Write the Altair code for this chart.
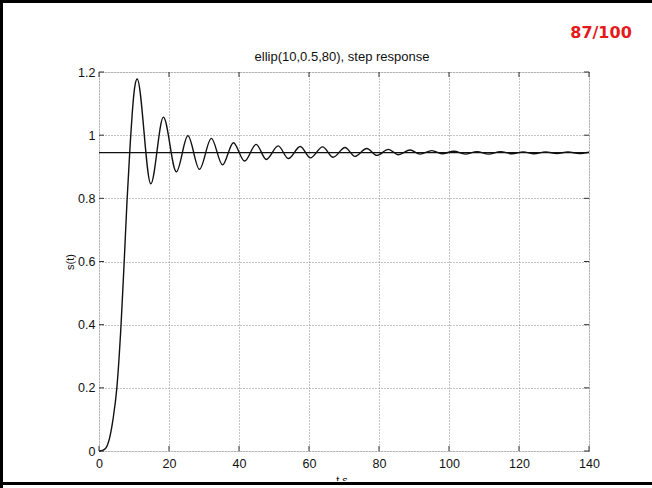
import altair as alt
import pandas as pd

# Step response of ellip(10, 0.5, 80): time (s) and amplitude s(t)
t_vals = [0, 1, 2, 3, 4, 5.1, 6.3, 7.2, 8.0, 8.9, 9.5, 10.2, 10.9,
          14.8, 18.4, 22.1, 25.4, 28.7, 32.1, 35.3, 38.4, 41.6, 44.9,
          47.8, 51.2, 54.1, 57.5, 60.4, 63.9, 66.9, 70.3, 73.1, 76.5,
          79.4, 82.7, 85.5, 88.9, 91.7, 95.1, 98.0, 101.4, 104.6, 108.0,
          111.3, 114.7, 118.0, 121.2, 124.3, 127.6, 130.8, 134.0, 137.2, 140]
s_vals = [0, 0.002, 0.01, 0.04, 0.1, 0.2, 0.4, 0.6, 0.79, 0.97, 1.07, 1.152, 1.178,
          0.846, 1.057, 0.884, 0.998, 0.892, 0.99, 0.906, 0.976, 0.918, 0.971,
          0.923, 0.966, 0.926, 0.964, 0.928, 0.963, 0.930, 0.961, 0.933, 0.958,
          0.936, 0.955, 0.938, 0.953, 0.940, 0.951, 0.941, 0.949, 0.940, 0.948,
          0.940, 0.948, 0.941, 0.947, 0.941, 0.947, 0.942, 0.947, 0.942, 0.946]
steady_value = 0.945

x_ticks = [0, 20, 40, 60, 80, 100, 120, 140]
y_ticks = [0, 0.2, 0.4, 0.6, 0.8, 1.0, 1.2]

W, H = 490, 379
FONT = "Liberation Sans"
INK = "#111111"

curve_df = pd.DataFrame({"t": t_vals, "s": s_vals})
xt_df = pd.DataFrame({"t": x_ticks})
yt_df = pd.DataFrame({"s": y_ticks})
one = pd.DataFrame({"k": [0]})

x_scale = alt.Scale(domain=[0, 140], nice=False, zero=False)
y_scale = alt.Scale(domain=[0, 1.2], nice=False, zero=False)

x_axis = alt.Axis(values=x_ticks, title=None, grid=True, ticks=False, tickSize=0,
                  domain=False, labelFont=FONT, labelFontSize=12.5, labelColor=INK,
                  labelPadding=6, gridColor="#8a8a8a", gridDash=[1, 2], gridWidth=1,
                  labelFlush=False)
y_axis = alt.Axis(values=y_ticks, title="s(t)", grid=True, ticks=False, tickSize=0,
                  domain=False, labelFont=FONT, labelFontSize=12.5, labelColor=INK,
                  labelPadding=4, gridColor="#8a8a8a", gridDash=[1, 2], gridWidth=1,
                  labelFlush=False,
                  labelExpr="datum.value == 0 ? '0' : datum.value == 1 ? '1' : datum.label",
                  titleFont=FONT, titleFontSize=11, titleFontWeight="normal",
                  titleColor=INK, titleX=-24, titleY=H / 2, titleAngle=270,
                  titleAlign="center", titleBaseline="bottom")

X = alt.X("t:Q", scale=x_scale, axis=x_axis)
Y = alt.Y("s:Q", scale=y_scale, axis=y_axis)

curve = alt.Chart(curve_df).mark_line(
    color=INK, strokeWidth=1.4, interpolate="monotone"
).encode(x=X, y=Y)

steady = alt.Chart(one).mark_rule(color=INK, strokeWidth=1.3).encode(
    y=alt.datum(steady_value, scale=y_scale, axis=y_axis)
)

# inward tick marks on all four sides of the box
tick_len = 5
xt_bottom = alt.Chart(xt_df).mark_rule(color="#333").encode(
    x=X, y=alt.value(H), y2=alt.value(H - tick_len))
xt_top = alt.Chart(xt_df).mark_rule(color="#333").encode(
    x=X, y=alt.value(0), y2=alt.value(tick_len))
yt_left = alt.Chart(yt_df).mark_rule(color="#333").encode(
    y=Y, x=alt.value(0), x2=alt.value(tick_len))
yt_right = alt.Chart(yt_df).mark_rule(color="#333").encode(
    y=Y, x=alt.value(W), x2=alt.value(W - tick_len))

title = alt.Chart(one).mark_text(
    text="ellip(10,0.5,80), step response", font=FONT, fontSize=13, color=INK,
    align="center", baseline="alphabetic"
).encode(x=alt.value(W / 2 - 2), y=alt.value(-11))

# x-axis title, cut off by the page edge
x_title = alt.Chart(one).mark_text(
    text="t s", font=FONT, fontSize=11, color=INK, align="center", baseline="alphabetic"
).encode(x=alt.value(W / 2 - 2), y=alt.value(412))
cover = alt.Chart(one).mark_rect(color="white").encode(
    x=alt.value(-99), x2=alt.value(553), y=alt.value(409), y2=alt.value(416))

score = alt.Chart(one).mark_text(
    text="87/100", font="DejaVu Sans", fontSize=16, fontWeight="bold",
    color="#e41a1a", align="center", baseline="alphabetic"
).encode(x=alt.value(502), y=alt.value(-34))

# page frame on left, top and bottom
frame_top = alt.Chart(one).mark_rule(color="black", strokeWidth=3).encode(
    x=alt.value(-99), x2=alt.value(553), y=alt.value(-70.5))
frame_left = alt.Chart(one).mark_rule(color="black", strokeWidth=3).encode(
    x=alt.value(-97.5), y=alt.value(-72), y2=alt.value(416))
frame_bottom = alt.Chart(one).mark_rule(color="black", strokeWidth=3).encode(
    x=alt.value(-99), x2=alt.value(553), y=alt.value(411.5))

chart = alt.layer(
    curve, steady, xt_bottom, xt_top, yt_left, yt_right,
    title, x_title, cover, score, frame_top, frame_left, frame_bottom,
).properties(
    width=W, height=H,
    padding={"left": 99, "top": 72, "right": 63, "bottom": 37},
    autosize="none",
).configure_view(
    stroke="#333", strokeWidth=1.3
).configure(background="white")

chart.save("out.html", embed_options={"renderer": "svg", "actions": False})
